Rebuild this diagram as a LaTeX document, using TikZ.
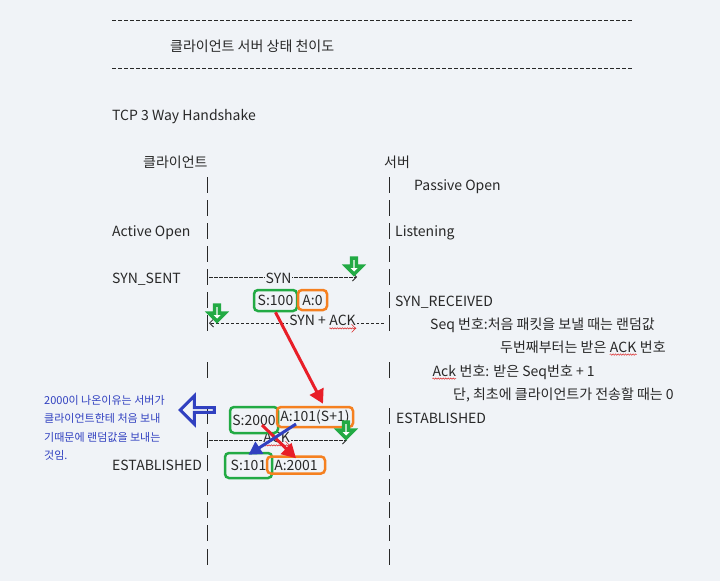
\documentclass[tikz,border=0pt]{standalone}
\usepackage{fontspec}
\setmainfont{Noto Sans CJK KR}
\usetikzlibrary{arrows.meta,shapes.arrows,decorations.pathmorphing}
\definecolor{bg}{RGB}{240,243,247}
\definecolor{ink}{RGB}{40,40,40}
\definecolor{mgreen}{RGB}{34,170,68}
\definecolor{morange}{RGB}{245,128,32}
\definecolor{mred}{RGB}{232,30,40}
\definecolor{mblue}{RGB}{48,64,192}
\definecolor{squig}{RGB}{220,40,40}
\tikzset{
  txt/.style={anchor=west, inner sep=0pt, yshift=-2pt, text=ink, font=\fontsize{14}{16}\selectfont},
  lbl/.style={fill=bg, inner sep=1pt, yshift=-1pt, text=ink, font=\fontsize{14}{16}\selectfont},
  rule/.style={draw=ink, line width=0.6pt, dash pattern=on 4pt off 2pt},
  pipe/.style={draw=ink, line width=0.7pt},
  msg/.style={draw=ink, line width=0.8pt, dash pattern=on 3.5pt off 1.5pt},
  msgtip/.style={-{Straight Barb[length=4pt,width=8pt]}},
  seqbox/.style={draw=mgreen, line width=2.5pt, rounded corners=4pt, inner sep=0pt, text=ink, font=\fontsize{14}{16}\selectfont},
  ackbox/.style={draw=morange, line width=2.5pt, rounded corners=4pt, inner sep=0pt, text=ink, font=\fontsize{14}{16}\selectfont},
  hint/.style={single arrow, shape border rotate=270, draw=mgreen, fill=white, line width=3.5pt, minimum height=16pt, minimum width=16pt, single arrow head extend=4pt, inner sep=0pt},
  leftarrow/.style={single arrow, shape border rotate=180, draw=mblue, line width=3pt, minimum height=34pt, minimum width=28pt, single arrow head extend=7pt, inner sep=0pt},
  redarrow/.style={draw=mred, line width=3pt, -{Triangle[length=14pt,width=15pt]}},
  bluearrow/.style={draw=mblue, line width=3pt, -{Triangle[length=13pt,width=14pt]}},
  wave/.style={draw=squig, line width=0.5pt, decorate, decoration={snake, amplitude=0.7pt, segment length=2.5pt}},
  note/.style={anchor=west, align=left, inner sep=0pt, text=mblue, font=\fontsize{11}{18.5}\selectfont}
}
\newcommand\spellwave[1]{\tikz[baseline=(w.base)]{\node[inner sep=0pt, fill=none] (w) {#1}; \draw[wave] ([yshift=-2.5pt]w.base west) -- ([yshift=-2.5pt]w.base east);}}
\begin{document}
\begin{tikzpicture}[x=1pt,y=-1pt]
\fill[bg] (0,0) rectangle (720,581);
\useasboundingbox (0,0) rectangle (720,581);
\draw[rule] (112,20) -- (633,20);
\draw[rule] (112,68) -- (633,68);
\node[txt] (title) at (170,44) {클라이언트 서버 상태 천이도};
\node[txt] (tcp) at (112,115) {TCP 3 Way Handshake};
\node[txt] (client) at (143,160) {클라이언트};
\node[txt] (server) at (384,160) {서버};
\foreach \r in {185,208,231,254,277,300,323,370,416,440,463,487,510,533,557}{
  \draw[pipe] (207,\r-8) -- (207,\r+8);
  \draw[pipe] (389,\r-8) -- (389,\r+8);
  \coordinate (c\r) at (207,\r);
  \coordinate (s\r) at (389,\r);
}
\node[txt] (passive) at (414,185) {Passive Open};
\node[txt] (active) at (112,231) {Active Open};
\node[txt] (listen) at (395,231) {Listening};
\node[txt] (synsent) at (112,277) {SYN\_SENT};
\node[txt] (synrcvd) at (395,300) {SYN\_RECEIVED};
\node[txt] (seq1) at (430,323) {Seq 번호:처음 패킷을 보낼 때는 랜덤값};
\node[txt] (seq2) at (500,346) {두번째부터는 받은 \spellwave{ACK} 번호};
\node[txt] (ack1) at (432,370) {\spellwave{Ack} 번호: 받은 Seq번호 + 1};
\node[txt] (ack2) at (453,393) {단, 최초에 클라이언트가 전송할 때는 0};
\node[txt] (estsrv) at (396,416) {ESTABLISHED};
\node[txt] (estcli) at (112,463) {ESTABLISHED};
\coordinate (synE) at (357,277);
\draw[msg, msgtip] ([xshift=2pt]c277) -- (synE) node[lbl, pos=0.47] {SYN};
\draw[msg, msgtip] ([xshift=-5pt]s323) -- ([xshift=2pt]c323) node[lbl, pos=0.35] {SYN + \spellwave{ACK}};
\coordinate (ackE) at (347,440);
\draw[msg, msgtip] ([xshift=2pt]c440) -- (ackE) node[lbl, pos=0.49] {\spellwave{ACK}};
\node[seqbox, minimum width=43pt, minimum height=21pt] (s100) at (275.5,300.5) {S:100};
\node[ackbox, minimum width=29pt, minimum height=20pt] (a0) at (312.5,300) {A:0};
\node[seqbox, minimum width=48pt, minimum height=26pt] (s2000) at (254,420) {S:2000};
\node[ackbox, minimum width=76pt, minimum height=20pt] (a101) at (315,417) {A:101(S+1)};
\node[seqbox, minimum width=47pt, minimum height=25pt] (s101) at (248.5,465.5) {S:101};
\node[ackbox, minimum width=58pt, minimum height=17pt] (a2001) at (296,465) {A:2001};
\node[hint] (g1) at (354,265) {};
\node[hint] (g2) at (217,312) {};
\node[hint] (g3) at (346,429) {};
\draw[redarrow] (s100.south) -- ([xshift=8pt,yshift=2pt]a101.north);
\draw[redarrow] ([shift={(8pt,-5pt)}]s2000.center) -- ([yshift=-3pt]a2001.north);
\draw[bluearrow] ([shift={(-19pt,-7pt)}]a101.center) -- ([yshift=-3pt]s101.north);
\node[leftarrow] (why) at (198.5,410) {};
\node[note] (whytxt) at (44,428) {2000이 나온이유는 서버가\\클라이언트한테 처음 보내\\기때문에 랜덤값을 보내는\\것임.};
\end{tikzpicture}
\end{document}
